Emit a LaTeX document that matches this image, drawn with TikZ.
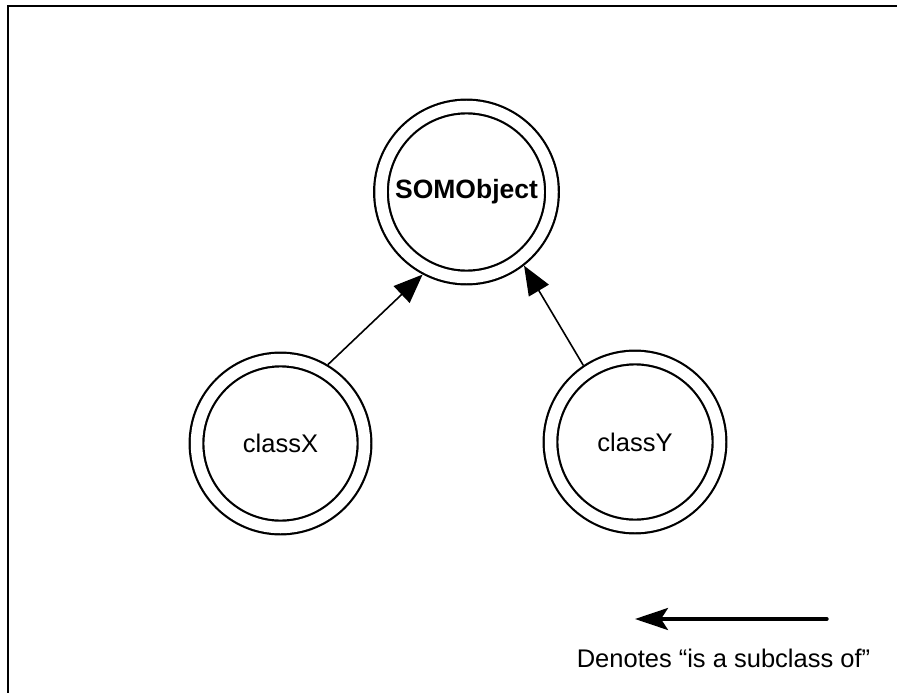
\documentclass[tikz,border=0pt]{standalone}
\usepackage{fontspec}
\setmainfont{Liberation Sans}
\usetikzlibrary{arrows.meta}
\begin{document}
\begin{tikzpicture}[x=1pt,y=-1pt,
  classnode/.style={circle, draw=black, line width=2.2pt, double=white, double distance=11.5pt,
    inner sep=0pt, outer sep=8pt, font=\fontsize{25.5}{30}\selectfont},
  inherit/.style={line width=1.6pt, -{Triangle[length=29pt,width=23pt]}},
  legendarrow/.style={line width=3.4pt, line cap=round, -{Stealth[length=33pt,width=22pt,inset=7pt]}},
  lbl/.style={font=\fontsize{25.5}{30}\selectfont, inner sep=0pt}
]
\useasboundingbox (0,0) rectangle (897,693);
% frame (top and left edges visible)
\draw[line width=2.2pt] (897,6) -- (8,6) -- (8,693);
% class nodes
\node[classnode, minimum size=171pt, font=\fontsize{26.5}{30}\selectfont\bfseries] (so) at (466.5,192) {SOMObject};
\node[classnode, minimum size=168pt] (cx) at (280.5,443.5) {classX};
\node[classnode, minimum size=169pt] (cy) at (635,442) {classY};
% inheritance arrows
\draw[inherit] (cx.59.5) -- (so.242);
\draw[inherit] (cy.124.8) -- (so.308);
% legend
\coordinate (lgs) at (827,619);
\coordinate (lge) at (635,619);
\draw[legendarrow] (lgs) -- (lge);
\node[lbl, anchor=base] (lgt) at (723.5,667) {Denotes “is a subclass of”};
\end{tikzpicture}
\end{document}
